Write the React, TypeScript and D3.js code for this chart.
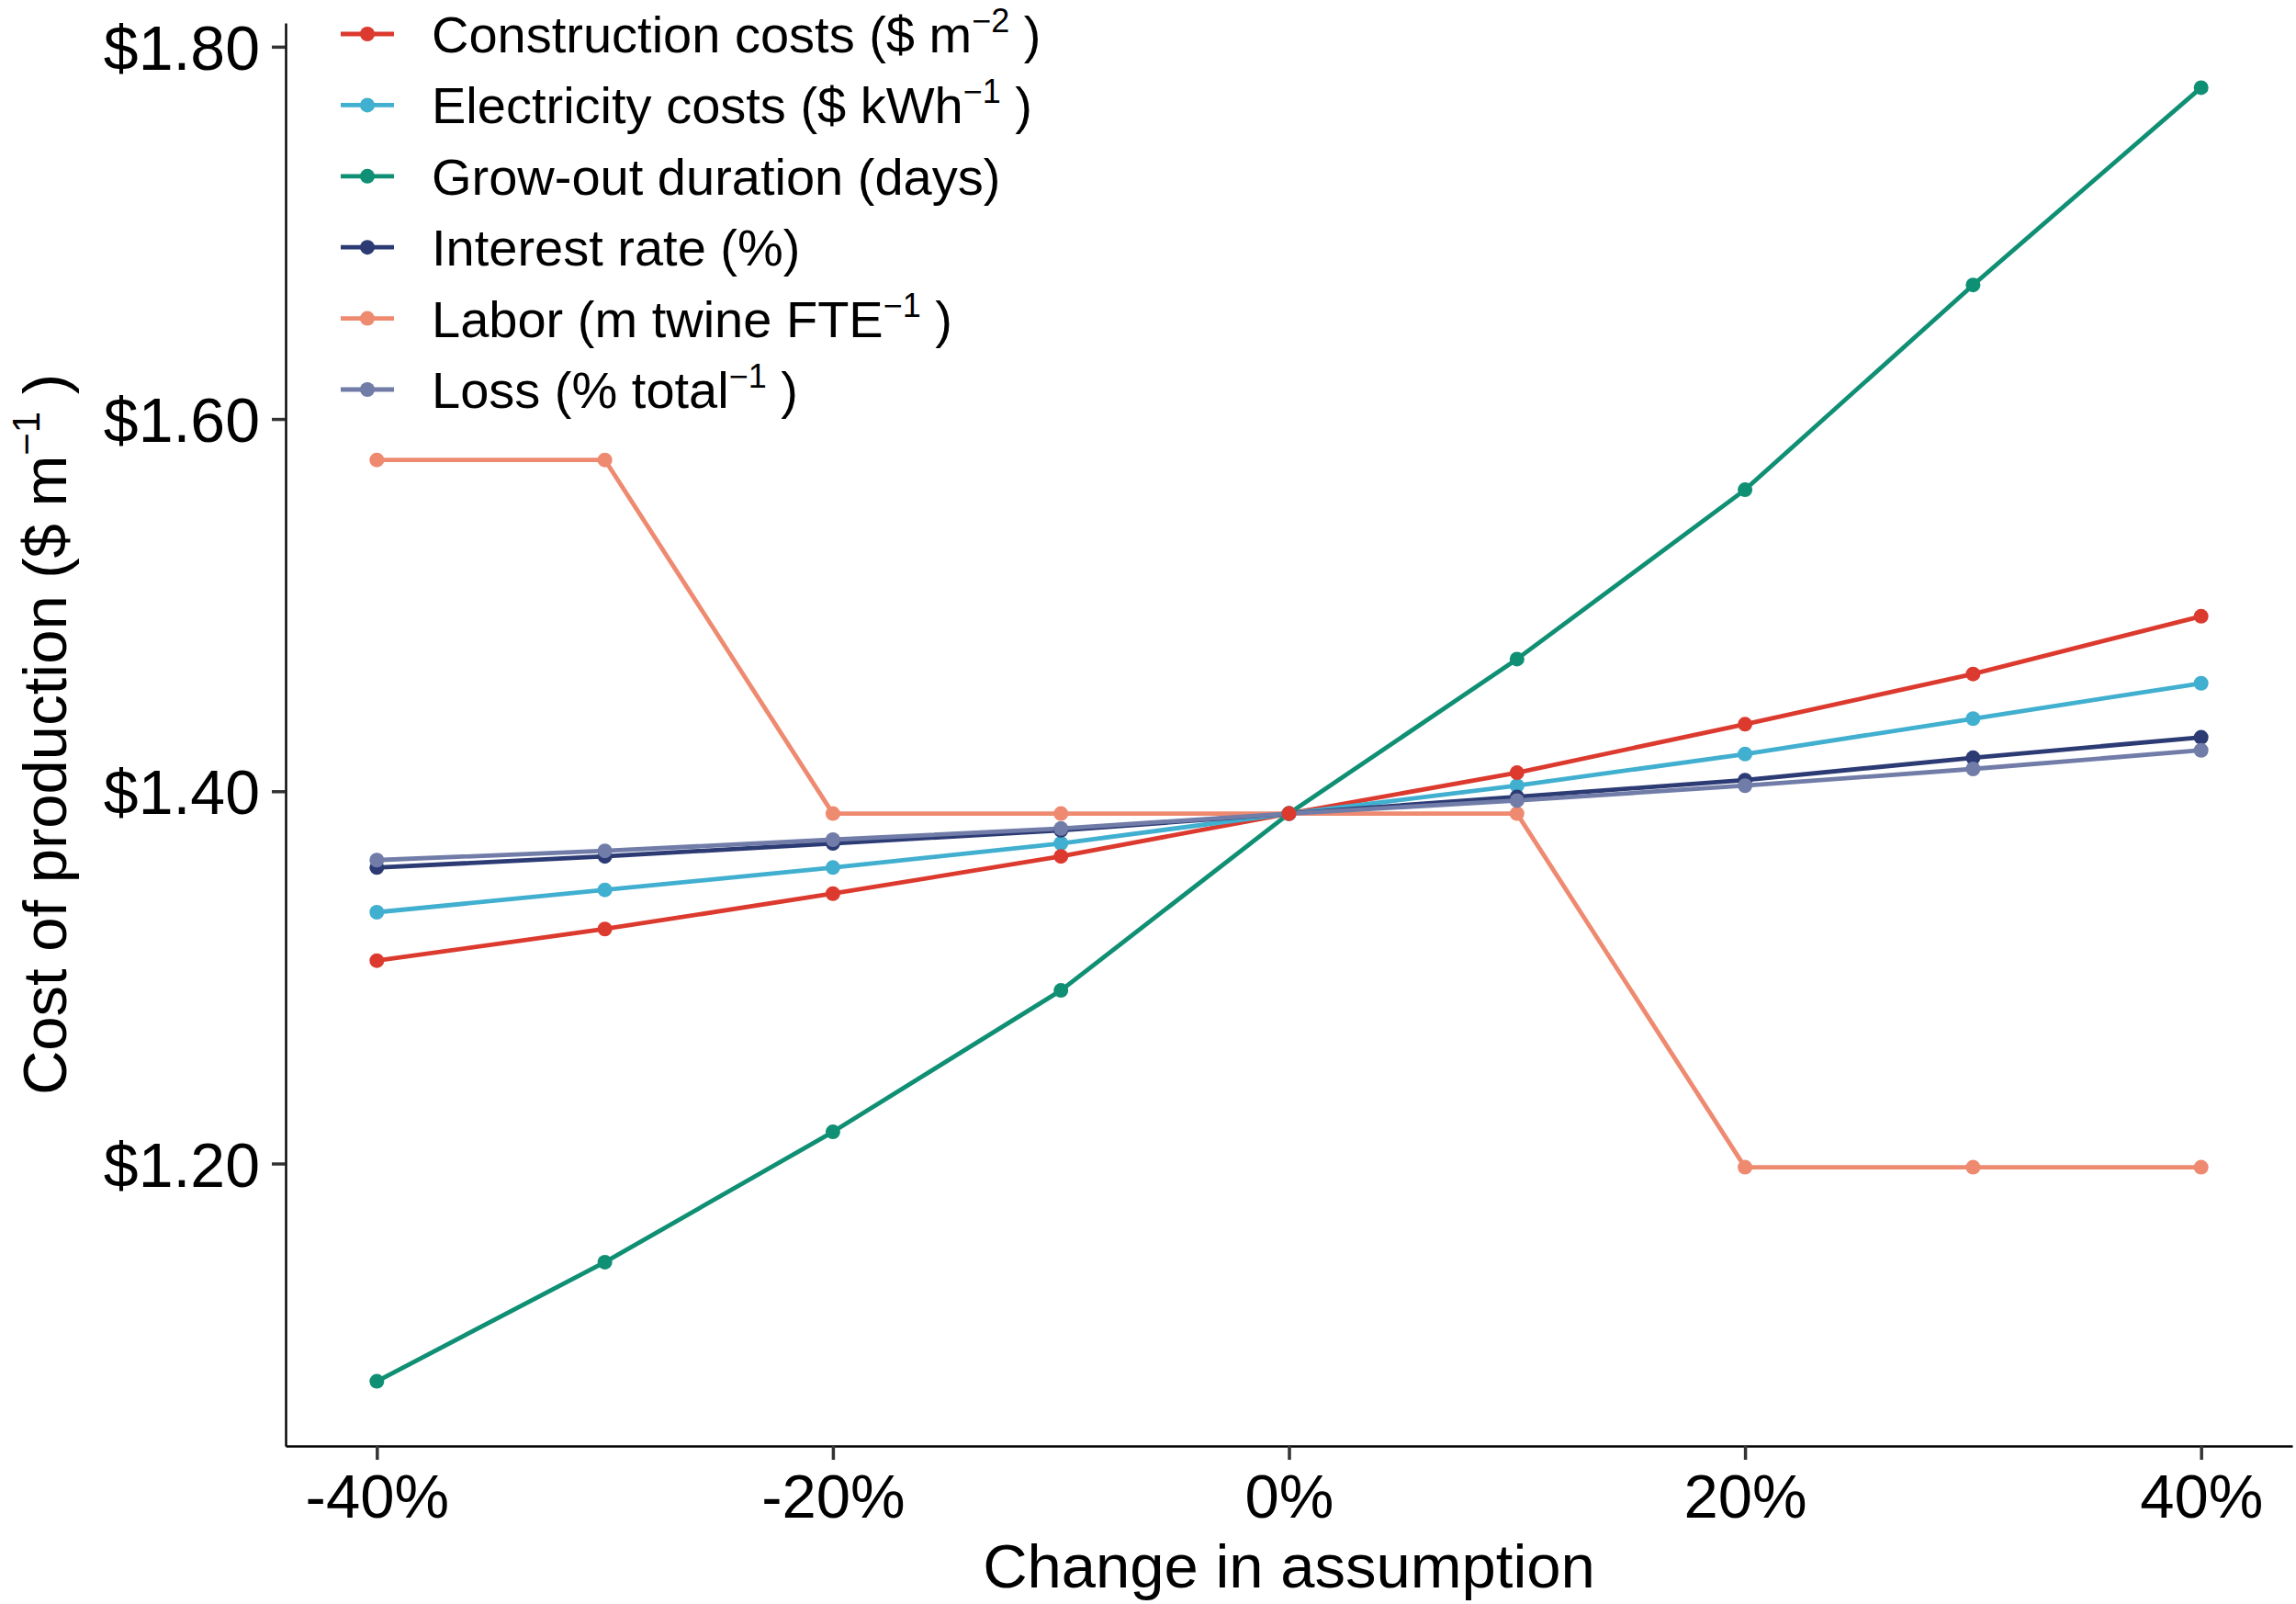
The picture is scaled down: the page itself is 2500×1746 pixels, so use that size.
import * as d3 from "d3";
import React, { useEffect, useRef } from "react";

// change in assumption (%) and cost of production ($ per m) for each driver
const changes = [-40, -30, -20, -10, 0, 10, 20, 30, 40];
const construction = [1.309, 1.326, 1.345, 1.365, 1.388, 1.41, 1.436, 1.463, 1.494];
const electricity = [1.335, 1.347, 1.359, 1.372, 1.388, 1.403, 1.42, 1.439, 1.458];
const growOut = [1.083, 1.147, 1.217, 1.293, 1.388, 1.471, 1.562, 1.672, 1.778];
const interest = [1.359, 1.365, 1.372, 1.379, 1.388, 1.397, 1.406, 1.418, 1.429];
const labor = [1.578, 1.578, 1.388, 1.388, 1.388, 1.388, 1.198, 1.198, 1.198];
const loss = [1.363, 1.368, 1.374, 1.38, 1.388, 1.395, 1.403, 1.412, 1.422];

const seriesLabels = [
  "Construction costs ($ m",
  "Electricity costs ($ kWh",
  "Grow-out duration (days)",
  "Interest rate (%)",
  "Labor (m twine FTE",
  "Loss (% total",
];
const seriesSup = ["−2", "−1", "", "", "−1", "−1"];
const seriesColors = ["#DC3A2E", "#41AFCF", "#0F8F73", "#2C3B74", "#EE8A70", "#717DA8"];
const seriesValues = [construction, electricity, growOut, interest, labor, loss];

const xTicks = [-40, -20, 0, 20, 40];
const yTicks = [1.2, 1.4, 1.6, 1.8];

const FONT = "'Liberation Sans', Arial, Helvetica, sans-serif";

export default function App() {
  const xAxisRef = useRef<SVGGElement>(null);
  const yAxisRef = useRef<SVGGElement>(null);

  const W = 2500;
  const H = 1746;
  const left = 311;
  const right = 2496;
  const top = 25;
  const bottom = 1574;

  // ggplot-like 5% expansion
  const xExt = d3.extent(changes) as [number, number];
  const xPad = (xExt[1] - xExt[0]) * 0.05;
  const x = d3.scaleLinear().domain([xExt[0] - xPad, xExt[1] + xPad]).range([left, right]);

  const allVals = seriesValues.flat();
  const yExt = d3.extent(allVals) as [number, number];
  const yPad = (yExt[1] - yExt[0]) * 0.05;
  const y = d3.scaleLinear().domain([yExt[0] - yPad, yExt[1] + yPad]).range([bottom, top]);

  const line = d3
    .line<number>()
    .x((_, i) => x(changes[i]))
    .y((d) => y(d));

  useEffect(() => {
    if (xAxisRef.current) {
      const g = d3.select(xAxisRef.current);
      g.call(
        d3
          .axisBottom(x)
          .tickValues(xTicks)
          .tickFormat((d) => `${d}%`)
          .tickSize(15)
          .tickSizeOuter(0)
          .tickPadding(15)
      );
      g.select(".domain").attr("stroke", "#000").attr("stroke-width", 2.4);
      g.selectAll(".tick line").attr("stroke", "#333").attr("stroke-width", 3.5);
      g.selectAll(".tick text")
        .attr("fill", "#000")
        .style("font-size", "67px")
        .style("font-family", FONT);
    }
    if (yAxisRef.current) {
      const g = d3.select(yAxisRef.current);
      g.call(
        d3
          .axisLeft(y)
          .tickValues(yTicks)
          .tickFormat((d) => `$${(+d).toFixed(2)}`)
          .tickSize(15)
          .tickSizeOuter(0)
          .tickPadding(13)
      );
      g.select(".domain").attr("stroke", "#000").attr("stroke-width", 2.4);
      g.selectAll(".tick line").attr("stroke", "#333").attr("stroke-width", 3.5);
      g.selectAll(".tick text")
        .attr("fill", "#000")
        .attr("dy", "0.36em")
        .style("font-size", "68px")
        .style("font-family", FONT);
    }
  }, []);

  // construction drawn last so its point sits on top at 0%
  const pointOrder = [1, 2, 3, 4, 5, 0];

  return (
    <div style={{ position: "absolute", left: 0, top: 0, background: "#fff" }}>
      <svg width={W} height={H} style={{ display: "block" }}>
        <rect width={W} height={H} fill="#fff" />

        {seriesValues.map((vals, s) => (
          <path
            key={`line-${s}`}
            d={line(vals) || ""}
            fill="none"
            stroke={seriesColors[s]}
            strokeWidth={4.8}
            strokeLinejoin="round"
          />
        ))}
        {pointOrder.map((s) =>
          seriesValues[s].map((v, i) => (
            <circle
              key={`pt-${s}-${i}`}
              cx={x(changes[i])}
              cy={y(v)}
              r={8}
              fill={seriesColors[s]}
            />
          ))
        )}

        <g ref={xAxisRef} transform={`translate(0, ${bottom})`} />
        <g ref={yAxisRef} transform={`translate(${left}, 0)`} />

        {/* axis titles */}
        <text
          x={(left + right) / 2}
          y={1728}
          textAnchor="middle"
          fontFamily={FONT}
          fontSize={67}
          fill="#000"
        >
          Change in assumption
        </text>
        <text
          transform={`translate(72, ${(top + bottom) / 2}) rotate(-90)`}
          textAnchor="middle"
          fontFamily={FONT}
          fontSize={67}
          fill="#000"
        >
          Cost of production ($ m
          <tspan fontSize={42} dy={-29}>
            −1
          </tspan>
          <tspan dy={29}> )</tspan>
        </text>

        {/* legend */}
        {seriesLabels.map((label, i) => {
          const cy = 37 + i * 77.4;
          return (
            <g key={`leg-${i}`}>
              <line
                x1={371}
                x2={429}
                y1={cy}
                y2={cy}
                stroke={seriesColors[i]}
                strokeWidth={4.8}
              />
              <circle cx={400} cy={cy} r={8} fill={seriesColors[i]} />
              <text
                x={470}
                y={cy + 20}
                fontFamily={FONT}
                fontSize={56}
                fill="#000"
              >
                {label}
                {seriesSup[i] ? (
                  <>
                    <tspan fontSize={36} dy={-22}>
                      {seriesSup[i]}
                    </tspan>
                    <tspan dy={22}>{"  )"}</tspan>
                  </>
                ) : null}
              </text>
            </g>
          );
        })}
      </svg>
    </div>
  );
}
